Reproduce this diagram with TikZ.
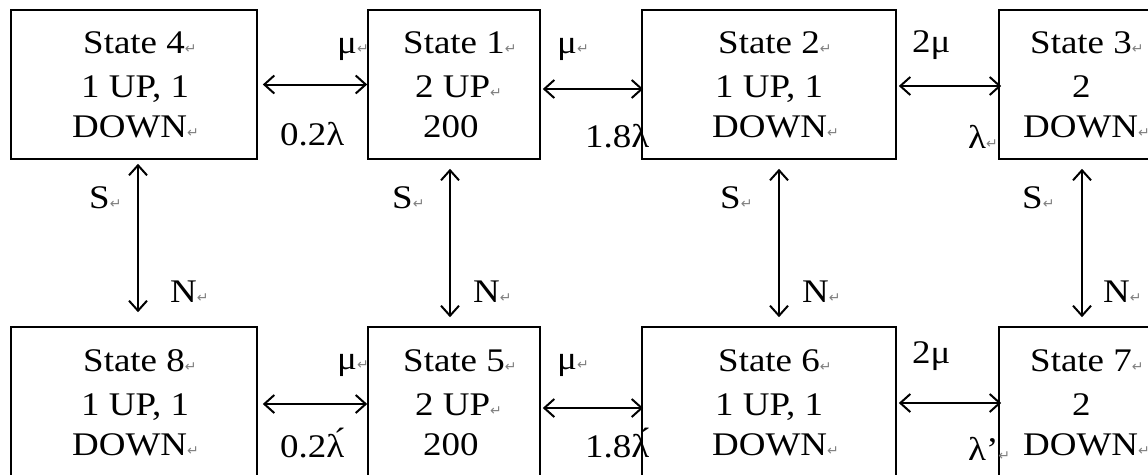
\documentclass[tikz,border=0pt]{standalone}
\usepackage{fontspec}
\setmainfont[FakeStretch=1.12]{Liberation Serif}
\newfontfamily\markfont{DejaVu Sans}
\usetikzlibrary{arrows.meta,calc}
\newcommand\pmk{{\markfont\fontsize{14}{14}\selectfont\textcolor{gray}{↵}}}
\begin{document}
\begin{tikzpicture}[x=1pt,y=-1pt,
  box/.style={draw, line width=1.6pt, minimum height=149pt, inner sep=0pt},
  txt/.style={inner sep=0pt, anchor=base west, font=\fontsize{33}{40}\selectfont},
  link/.style={line width=2pt, {Straight Barb[length=10pt,width=18pt]}-{Straight Barb[length=10pt,width=18pt]}}]
\useasboundingbox (0,0) rectangle (1148,474);
\clip (0,0) rectangle (1148,474);
% boxes
\node[box, minimum width=246pt] (b4) at (134,84.5) {};
\node[box, minimum width=172pt] (b1) at (454,84.5) {};
\node[box, minimum width=254pt] (b2) at (769,84.5) {};
\node[box, minimum width=172pt] (b3) at (1085,84.5) {};
\node[box, minimum width=246pt] (b8) at (134,401.5) {};
\node[box, minimum width=172pt] (b5) at (454,401.5) {};
\node[box, minimum width=254pt] (b6) at (769,401.5) {};
\node[box, minimum width=172pt] (b7) at (1085,401.5) {};
% box texts
\node[txt] (t4a) at (83,53) {State 4\pmk};
\node[txt] (t4b) at (81,97) {1 UP, 1};
\node[txt] (t4c) at (72,137) {DOWN\pmk};
\node[txt] (t1a) at (403,53) {State 1\pmk};
\node[txt] (t1b) at (415,97) {2 UP\pmk};
\node[txt] (t1c) at (423,137) {200};
\node[txt] (t2a) at (718,53) {State 2\pmk};
\node[txt] (t2b) at (715,97) {1 UP, 1};
\node[txt] (t2c) at (712,137) {DOWN\pmk};
\node[txt] (t3a) at (1030,53) {State 3\pmk};
\node[txt] (t3b) at (1072,97) {2};
\node[txt] (t3c) at (1023,137) {DOWN\pmk};
\node[txt] (t8a) at (83,371) {State 8\pmk};
\node[txt] (t8b) at (81,415) {1 UP, 1};
\node[txt] (t8c) at (72,455) {DOWN\pmk};
\node[txt] (t5a) at (403,371) {State 5\pmk};
\node[txt] (t5b) at (415,415) {2 UP\pmk};
\node[txt] (t5c) at (423,455) {200};
\node[txt] (t6a) at (718,371) {State 6\pmk};
\node[txt] (t6b) at (715,415) {1 UP, 1};
\node[txt] (t6c) at (712,455) {DOWN\pmk};
\node[txt] (t7a) at (1030,371) {State 7\pmk};
\node[txt] (t7b) at (1072,415) {2};
\node[txt] (t7c) at (1023,455) {DOWN\pmk};
% horizontal links
\draw[link, shorten <=5pt] (b4.east) -- (b1.west);
\draw[link, shorten <=2pt, shorten >=-2pt] ([yshift=-4.5pt]b1.east) -- ([yshift=-4.5pt]b2.west);
\draw[link, shorten <=2pt, shorten >=-3pt] ([yshift=-1.5pt]b2.east) -- ([yshift=-1.5pt]b3.west);
\draw[link, shorten <=5pt] ([yshift=-2.5pt]b8.east) -- ([yshift=-2.5pt]b5.west);
\draw[link, shorten <=2pt, shorten >=-2pt] ([yshift=-6.5pt]b5.east) -- ([yshift=-6.5pt]b6.west);
\draw[link, shorten <=2pt, shorten >=-3pt] ([yshift=-1.5pt]b6.east) -- ([yshift=-1.5pt]b7.west);
% vertical links
\draw[link, shorten <=4pt, shorten >=14pt] ([xshift=4pt]b4.south) -- ([xshift=4pt]b8.north);
\draw[link, shorten <=9pt, shorten >=9pt] ([xshift=-4pt]b1.south) -- ([xshift=-4pt]b5.north);
\draw[link, shorten <=9pt, shorten >=9pt] ([xshift=10pt]b2.south) -- ([xshift=10pt]b6.north);
\draw[link, shorten <=9pt, shorten >=9pt] ([xshift=-3pt]b3.south) -- ([xshift=-3pt]b7.north);
% rate labels
\node[txt] (m41) at (337,53) {μ\pmk};
\node[txt] (l41) at (280,145) {0.2λ};
\node[txt] (m12) at (557,53) {μ\pmk};
\node[txt] (l12) at (585,147) {1.8λ};
\node[txt] (m23) at (912,52) {2μ};
\node[txt] (l23) at (968,148) {λ\pmk};
\node[txt] (m85) at (337,369) {μ\pmk};
\node[txt] (l85) at (280,457) {0.2λ́};
\node[txt] (m56) at (557,369) {μ\pmk};
\node[txt] (l56) at (585,457) {1.8λ́};
\node[txt] (m67) at (912,363) {2μ};
\node[txt] (l67) at (968,460) {λ’\pmk};
% S / N labels
\node[txt] (s48) at (89,208) {S\pmk};
\node[txt] (n48) at (170,302) {N\pmk};
\node[txt] (s15) at (392,208) {S\pmk};
\node[txt] (n15) at (473,302) {N\pmk};
\node[txt] (s26) at (720,208) {S\pmk};
\node[txt] (n26) at (802,302) {N\pmk};
\node[txt] (s37) at (1022,208) {S\pmk};
\node[txt] (n37) at (1103,302) {N\pmk};
\end{tikzpicture}
\end{document}
